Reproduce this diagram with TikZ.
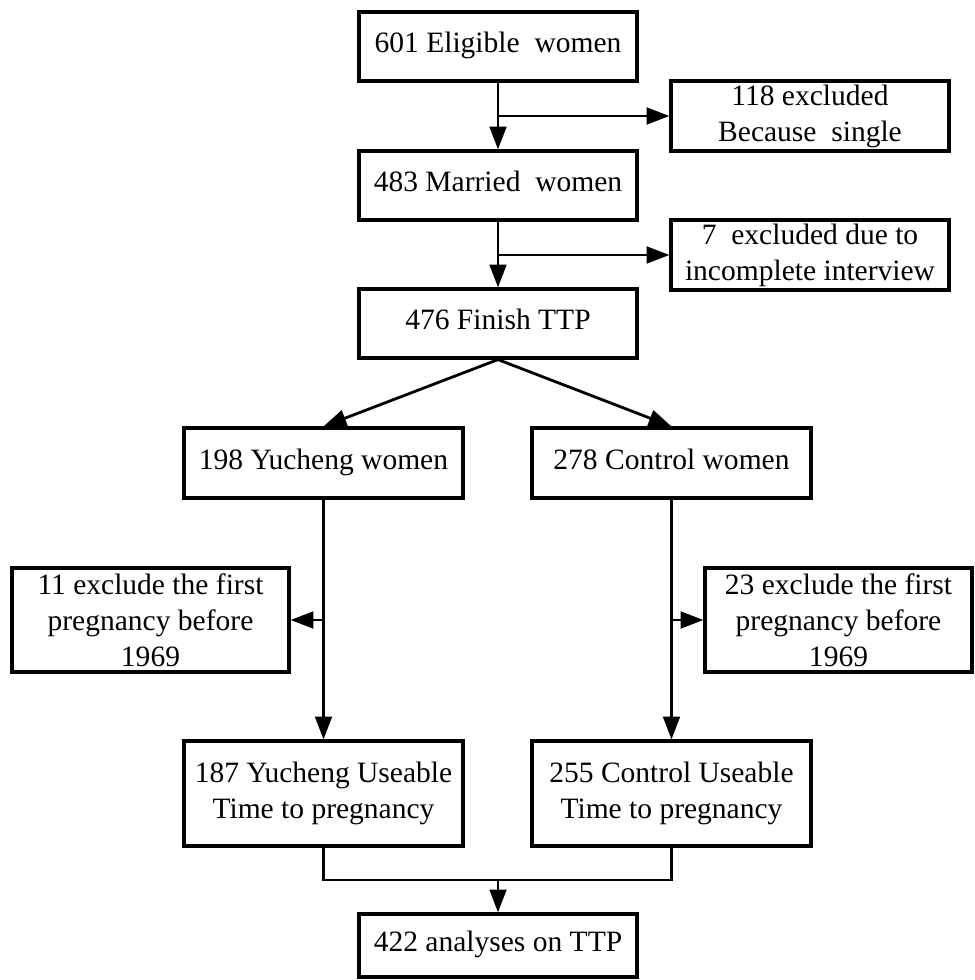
\documentclass[tikz,border=0pt]{standalone}
\usepackage{fontspec}
\setmainfont{Liberation Serif}
\usetikzlibrary{arrows.meta}

\begin{document}
\begin{tikzpicture}[x=0.02cm,y=-0.02cm,
  box/.style={draw,line width=1.8pt,inner sep=2pt,align=center,
    font=\fontsize{16.8}{20.5}\selectfont},
  oneline/.style={text height=2ex,text depth=.4ex},
  conn/.style={line width=1.6pt},
  arr/.style={line width=1.6pt,-{Triangle[length=13pt,width=9.5pt]}}]
  \useasboundingbox (0,0) rectangle (974,980);
  \node[box,oneline,minimum width=5.56cm,minimum height=1.38cm] (eligible) at (498,46.5) {601 Eligible~ women};
  \node[box,minimum width=5.56cm,minimum height=1.40cm] (single) at (810,116) {118 excluded\\Because~ single};
  \node[box,oneline,minimum width=5.56cm,minimum height=1.38cm] (married) at (498,185.5) {483 Married~ women};
  \node[box,minimum width=5.56cm,minimum height=1.40cm] (incomplete) at (810,255) {7~ excluded due to\\incomplete interview};
  \node[box,oneline,minimum width=5.56cm,minimum height=1.38cm] (finish) at (498,323.5) {476 Finish TTP};
  \node[box,oneline,minimum width=5.58cm,minimum height=1.40cm] (yucheng) at (323.5,463) {198 Yucheng women};
  \node[box,oneline,minimum width=5.58cm,minimum height=1.40cm] (control) at (671.5,463) {278 Control women};
  \node[box,minimum width=5.54cm,minimum height=2.08cm] (exclY) at (150.5,620) {11 exclude the first\\pregnancy before\\1969};
  \node[box,minimum width=5.34cm,minimum height=2.08cm] (exclC) at (838.5,620) {23 exclude the first\\pregnancy before\\1969};
  \node[box,minimum width=5.58cm,minimum height=2.10cm] (useY) at (323.5,793.5) {187 Yucheng Useable\\Time to pregnancy};
  \node[box,minimum width=5.58cm,minimum height=2.10cm] (useC) at (671.5,793.5) {255 Control Useable\\Time to pregnancy};
  \node[box,oneline,minimum width=5.56cm,minimum height=1.26cm] (analyses) at (498,945.5) {422 analyses on TTP};

  \draw[arr] (eligible) -- (married);
  \coordinate (b1) at (eligible.south |- single.west);
  \draw[arr] (b1) -- (single);
  \draw[arr] (married) -- (finish);
  \coordinate (b2) at (married.south |- incomplete.west);
  \draw[arr] (b2) -- (incomplete);
  \draw[arr] (finish.south) -- (yucheng.north);
  \draw[arr] (finish.south) -- (control.north);
  \draw[arr] (yucheng) -- (useY);
  \coordinate (b3) at (yucheng.south |- exclY.east);
  \draw[arr] (b3) -- (exclY);
  \draw[arr] (control) -- (useC);
  \coordinate (b4) at (control.south |- exclC.west);
  \draw[arr] (b4) -- (exclC);
  \coordinate (join) at (498,880);
  \draw[conn] (useY.south) |- (join) -| (useC.south);
  \draw[arr] (join) -- (analyses);
\end{tikzpicture}
\end{document}
